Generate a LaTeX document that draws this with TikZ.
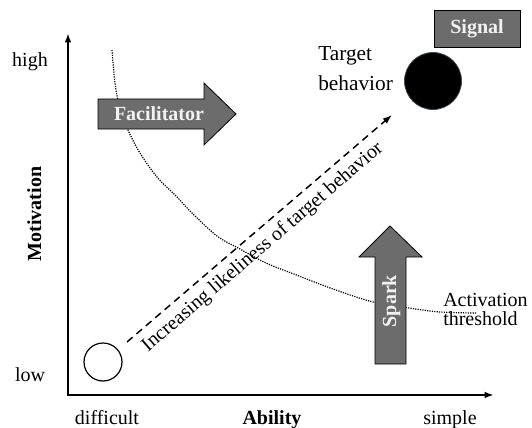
\documentclass[tikz,border=0pt]{standalone}
\usepackage{fontspec}
\setmainfont{Liberation Serif}
\usetikzlibrary{arrows.meta}
\definecolor{boxgray}{RGB}{108,108,108}
\definecolor{txtlight}{RGB}{242,242,242}
\begin{document}
\begin{tikzpicture}[x=0.75pt,y=-0.75pt,
  lbl/.style={font=\fontsize{15}{17}\selectfont, inner sep=0pt},
  blbl/.style={font=\fontsize{15}{17}\selectfont\bfseries, inner sep=0pt},
  axis/.style={line width=1.4pt,-{Latex[length=7pt,width=5pt]}},
  graybox/.style={fill=boxgray, draw=black, line width=0.6pt},
  intext/.style={font=\fontsize{15}{17}\selectfont\bfseries, text=txtlight, inner sep=0pt},
  threshold/.style={line width=0.9pt, dash pattern=on 0.9pt off 0.9pt},
  likely/.style={line width=1.1pt, dash pattern=on 5.5pt off 3.8pt, -{Latex[length=7pt,width=5pt]}}]
\useasboundingbox (0,0) rectangle (532,428);

% axes
\coordinate (O) at (68,395);
\coordinate (ytop) at (68,33);
\coordinate (xend) at (494,395);
\draw[axis] (O) -- (ytop);
\draw[axis] ([xshift=-0.7pt]O) -- (xend);

% axis labels
\node[lbl, anchor=base] (high) at (30,67) {high};
\node[lbl, anchor=base] (low) at (30,381) {low};
\node[blbl, anchor=base, rotate=90] (mot) at (41,214) {Motivation};
\node[lbl, anchor=base] (diff) at (107,424) {difficult};
\node[blbl, anchor=base] (abil) at (272,424) {Ability};
\node[lbl, anchor=base] (simp) at (450,424) {simple};

% activation threshold curve
\draw[threshold] plot[smooth, tension=0.55] coordinates {
  (112,50) (115,83) (119,104) (128,130) (140,153) (157,177) (177,197)
  (192,213) (217,236) (240,249) (266,263) (299,276) (333,289) (373,302)
  (409,308) (440,312) (476,313)};
\node[lbl, anchor=base west, align=left] (act) at (443,306) {Activation};
\node[lbl, anchor=base west] (thr) at (443,325) {threshold};

% facilitator arrow
\draw[graybox] (98,99) -- (204,99) -- (204,83) -- (236,114) -- (204,145)
  -- (204,129) -- (98,129) -- cycle;
\node[intext, anchor=base] (fac) at (159,121) {Facilitator};

% spark arrow
\draw[graybox] (375,364) -- (375,257) -- (359,257) -- (390,226) -- (422,257)
  -- (406,257) -- (406,364) -- cycle;
\node[intext, anchor=base, rotate=90] (spark) at (396,301) {Spark};

% signal box
\node[graybox, minimum width=86*0.75pt, minimum height=37*0.75pt, inner sep=0pt,
  font=\fontsize{15}{17}\selectfont\bfseries, text=txtlight] (signal) at (477,28.5) {Signal};

% circles
\node[circle, draw=black, line width=0.9pt, minimum size=38*0.75pt, inner sep=0pt] (start) at (103,362) {};
\node[circle, fill=black, draw=black!80!cyan, line width=0.6pt, minimum size=57*0.75pt, inner sep=0pt] (target) at (433,81) {};
\node[font=\fontsize{16}{22.5}\selectfont, inner sep=0pt, align=left, anchor=west] (tlab) at (318,69) {Target\\behavior};

% likelihood arrow
\coordinate (dstart) at (127,342);
\coordinate (dend) at (392,115);
\draw[likely] (dstart) -- (dend);
\node[lbl, anchor=base, rotate=40.6] (inc) at (266,251) {Increasing likeliness of target behavior};
\end{tikzpicture}
\end{document}
